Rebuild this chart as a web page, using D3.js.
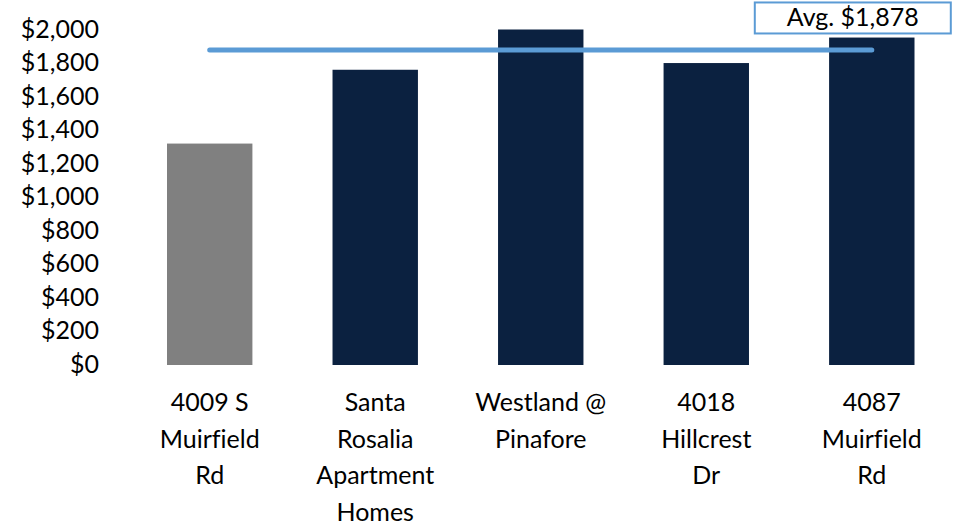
<!DOCTYPE html>
<html>
<head>
<meta charset="utf-8">
<script src="https://cdn.jsdelivr.net/npm/d3@7"></script>
<style>
  body { margin: 0; background: #fff; }
  text { font-family: Lato, "Open Sans", sans-serif; fill: #000; font-variant-ligatures: none; }
</style>
</head>
<body>
<svg id="chart" width="955" height="525"></svg>
<script>
// Chart data
const categories = [
  "4009 S\nMuirfield\nRd",
  "Santa\nRosalia\nApartment\nHomes",
  "Westland @\nPinafore",
  "4018\nHillcrest\nDr",
  "4087\nMuirfield\nRd",
];
const rents = [1320, 1760, 2000, 1800, 1952];
const barColors = ["#808080", "#0b2140", "#0b2140", "#0b2140", "#0b2140"];
const yTicks = [0, 200, 400, 600, 800, 1000, 1200, 1400, 1600, 1800, 2000];
const avgValue = 1878; // average of the comparables
const avgLabel = "Avg. $1,878";

const width = 955,
  height = 525;

const svg = d3.select("#chart").attr("width", width).attr("height", height);

// Scales
const x = d3
  .scaleBand()
  .domain(categories)
  .range([167, 914.5])
  .paddingInner(0.484)
  .paddingOuter(0);

const y = d3.scaleLinear().domain([0, 2000]).range([365, 29.5]);

const fmt = (d) => "$" + d3.format(",")(d);

// Y axis (labels only)
const yAxis = svg
  .append("g")
  .attr("transform", `translate(${x.range()[0] - 68},0)`)
  .call(d3.axisLeft(y).tickValues(yTicks).tickFormat(fmt).tickSize(0).tickPadding(0));
yAxis.select(".domain").remove();
yAxis
  .selectAll("text")
  .style("font-family", "Lato, 'Open Sans', sans-serif")
  .style("font-size", "25px")
  .attr("fill", "#000")
  .attr("dy", "0.3em");

// Bars
svg
  .selectAll(".bar")
  .data(rents)
  .join("rect")
  .attr("class", "bar")
  .attr("x", (d, i) => x(categories[i]))
  .attr("y", (d) => y(d))
  .attr("width", x.bandwidth())
  .attr("height", (d) => y(0) - y(d))
  .attr("fill", (d, i) => barColors[i]);

// X labels (wrapped lines)
const xLab = svg
  .selectAll(".xlab")
  .data(categories)
  .join("text")
  .attr("class", "xlab")
  .attr("text-anchor", "middle")
  .style("font-size", "25px");
xLab
  .selectAll("tspan")
  .data((d) => d.split("\n").map((t) => ({ t, c: d })))
  .join("tspan")
  .attr("x", (d) => x(d.c) + x.bandwidth() / 2)
  .attr("y", (d, i) => y(0) + 46 + i * 36.5)
  .text((d) => d.t);

// Average line
const x0 = x(categories[0]) + x.bandwidth() / 2;
const x1 = x(categories[categories.length - 1]) + x.bandwidth() / 2;
svg
  .append("line")
  .attr("x1", x0)
  .attr("x2", x1)
  .attr("y1", y(avgValue))
  .attr("y2", y(avgValue))
  .attr("stroke", "#5b9bd5")
  .attr("stroke-width", 5)
  .attr("stroke-linecap", "round");

// Average label
const labW = 196,
  labH = 31;
const labX = x1 - 117,
  labY = y(avgValue) - 47.5;
svg
  .append("rect")
  .attr("x", labX)
  .attr("y", labY)
  .attr("width", labW)
  .attr("height", labH)
  .attr("fill", "#fff")
  .attr("stroke", "#5b9bd5")
  .attr("stroke-width", 2);
svg
  .append("text")
  .attr("x", labX + labW / 2)
  .attr("y", labY + labH / 2)
  .attr("dy", "0.33em")
  .attr("text-anchor", "middle")
  .style("font-size", "25px")
  .text(avgLabel);
</script>
</body>
</html>
